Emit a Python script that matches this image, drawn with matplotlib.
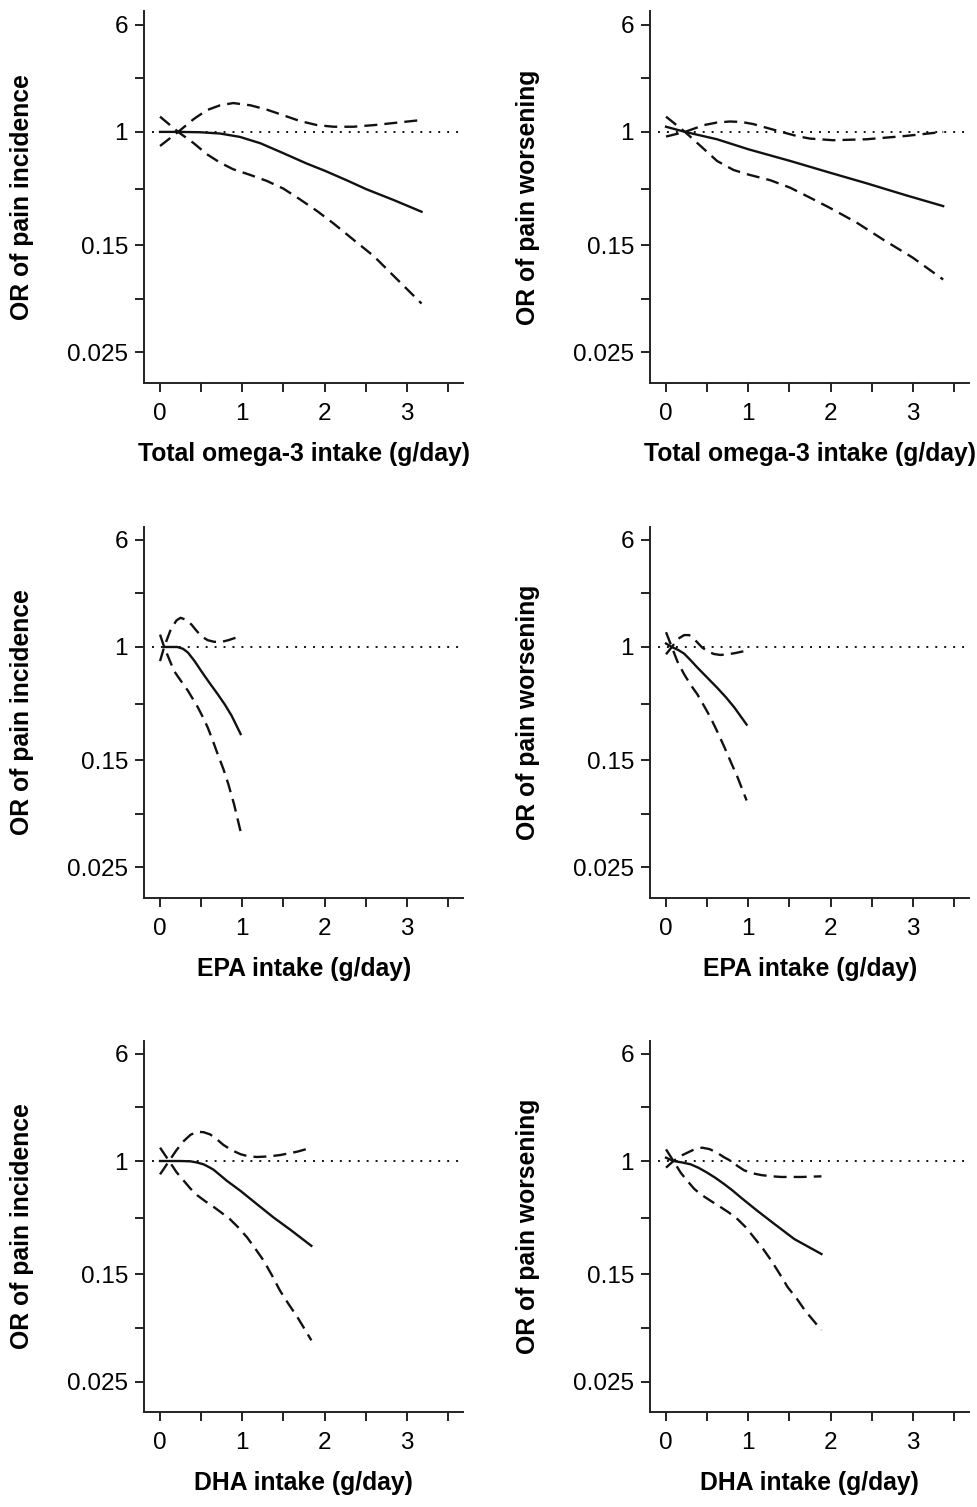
import numpy as np
import matplotlib
matplotlib.use("Agg")
import matplotlib.pyplot as plt
from matplotlib.ticker import NullFormatter

plt.rcParams['font.family'] = ['Liberation Sans', 'DejaVu Sans']

# --- data (x in g/day, y = odds ratio) ---
# Total omega-3 / pain incidence
tot_inc_x = [0, 0.24, 0.49, 0.73, 0.97, 1.22, 1.5, 1.78, 2.01, 2.27, 2.51, 2.84, 3.18]
tot_inc_or = [1.0, 1.0, 0.994, 0.973, 0.92, 0.827, 0.70, 0.59, 0.52, 0.445, 0.383, 0.32, 0.263]
tot_inc_hi_x = [0, 0.22, 0.41, 0.57, 0.73, 0.89, 1.1, 1.3, 1.5, 1.7, 1.91, 2.11, 2.35, 2.6, 2.84, 3.18]
tot_inc_hi = [0.79, 1.0, 1.24, 1.44, 1.56, 1.62, 1.56, 1.45, 1.32, 1.20, 1.12, 1.09, 1.09, 1.12, 1.16, 1.22]
tot_inc_lo_x = [0, 0.22, 0.41, 0.57, 0.73, 0.89, 1.1, 1.3, 1.5, 1.7, 1.91, 2.11, 2.35, 2.6, 2.84, 3.18]
tot_inc_lo = [1.29, 1.0, 0.827, 0.688, 0.598, 0.535, 0.486, 0.44, 0.387, 0.324, 0.266, 0.216, 0.165, 0.125, 0.09, 0.0566]

# Total omega-3 / pain worsening
tot_wor_x = [0, 0.23, 0.62, 1.0, 1.51, 1.99, 2.44, 2.92, 3.37]
tot_wor_or = [1.09, 1.0, 0.884, 0.748, 0.615, 0.506, 0.423, 0.346, 0.289]
tot_wor_hi_x = [0, 0.23, 0.46, 0.62, 0.78, 0.92, 1.06, 1.25, 1.43, 1.6, 1.75, 2.03, 2.44, 2.92, 3.37]
tot_wor_hi = [0.925, 1.0, 1.12, 1.17, 1.19, 1.18, 1.14, 1.06, 0.99, 0.93, 0.894, 0.87, 0.884, 0.935, 1.0]
tot_wor_lo_x = [0, 0.23, 0.42, 0.62, 0.82, 1.0, 1.27, 1.51, 1.75, 1.99, 2.32, 2.64, 3.0, 3.37]
tot_wor_lo = [1.29, 1.0, 0.79, 0.615, 0.529, 0.49, 0.445, 0.393, 0.333, 0.281, 0.219, 0.165, 0.122, 0.0846]

# EPA / pain incidence
epa_inc_x = [0.05, 0.21, 0.28, 0.34, 0.42, 0.5, 0.60, 0.70, 0.79, 0.87, 0.98]
epa_inc_or = [1.0, 1.0, 0.97, 0.91, 0.79, 0.67, 0.55, 0.455, 0.38, 0.317, 0.233]
epa_inc_hi_x = [0, 0.05, 0.13, 0.2, 0.25, 0.31, 0.38, 0.44, 0.5, 0.58, 0.66, 0.75, 0.83, 0.98]
epa_inc_hi = [0.79, 1.0, 1.34, 1.56, 1.63, 1.58, 1.46, 1.32, 1.2, 1.12, 1.09, 1.09, 1.12, 1.2]
epa_inc_lo_x = [0, 0.05, 0.17, 0.26, 0.34, 0.46, 0.52, 0.58, 0.64, 0.70, 0.77, 0.83, 0.9, 0.98]
epa_inc_lo = [1.23, 1.0, 0.67, 0.56, 0.48, 0.364, 0.31, 0.26, 0.21, 0.167, 0.13, 0.101, 0.072, 0.0455]

# EPA / pain worsening
epa_wor_x = [0, 0.07, 0.15, 0.22, 0.3, 0.38, 0.5, 0.62, 0.73, 0.83, 0.98]
epa_wor_or = [1.06, 1.0, 0.95, 0.895, 0.80, 0.71, 0.60, 0.507, 0.43, 0.364, 0.273]
epa_wor_hi_x = [0, 0.07, 0.15, 0.22, 0.28, 0.32, 0.38, 0.44, 0.51, 0.58, 0.66, 0.75, 0.85, 0.94]
epa_wor_hi = [0.885, 1.0, 1.15, 1.22, 1.22, 1.18, 1.08, 0.99, 0.93, 0.89, 0.875, 0.885, 0.905, 0.93]
epa_wor_lo_x = [0, 0.07, 0.14, 0.22, 0.30, 0.38, 0.46, 0.54, 0.62, 0.71, 0.79, 0.87, 0.98]
epa_wor_lo = [1.28, 1.0, 0.78, 0.634, 0.53, 0.454, 0.375, 0.308, 0.245, 0.187, 0.145, 0.113, 0.0767]

# DHA / pain incidence
dha_inc_x = [0, 0.25, 0.37, 0.45, 0.53, 0.6, 0.65, 0.73, 0.81, 0.98, 1.18, 1.38, 1.59, 1.84]
dha_inc_or = [1.0, 1.0, 0.995, 0.975, 0.946, 0.9, 0.865, 0.79, 0.72, 0.606, 0.485, 0.389, 0.315, 0.242]
dha_inc_hi_x = [0, 0.11, 0.2, 0.29, 0.37, 0.45, 0.53, 0.61, 0.69, 0.77, 0.87, 0.98, 1.08, 1.18, 1.32, 1.46, 1.67, 1.84]
dha_inc_hi = [0.8, 1.0, 1.2, 1.4, 1.55, 1.63, 1.62, 1.56, 1.44, 1.31, 1.2, 1.12, 1.08, 1.07, 1.08, 1.105, 1.17, 1.25]
dha_inc_lo_x = [0, 0.11, 0.2, 0.29, 0.37, 0.45, 0.55, 0.65, 0.75, 0.85, 0.95, 1.06, 1.16, 1.26, 1.36, 1.46, 1.57, 1.67, 1.84]
dha_inc_lo = [1.25, 1.0, 0.83, 0.717, 0.63, 0.565, 0.51, 0.465, 0.42, 0.378, 0.33, 0.278, 0.23, 0.189, 0.148, 0.114, 0.09, 0.0735, 0.0498]

# DHA / pain worsening
dha_wor_x = [0, 0.09, 0.2, 0.3, 0.4, 0.5, 0.6, 0.71, 0.81, 0.91, 1.11, 1.32, 1.56, 1.89]
dha_wor_or = [1.057, 1.0, 0.975, 0.946, 0.89, 0.823, 0.755, 0.678, 0.61, 0.543, 0.435, 0.348, 0.271, 0.211]
dha_wor_hi_x = [0, 0.09, 0.18, 0.26, 0.35, 0.44, 0.53, 0.62, 0.7, 0.79, 0.87, 0.95, 1.05, 1.16, 1.28, 1.4, 1.65, 1.89]
dha_wor_hi = [0.895, 1.0, 1.09, 1.15, 1.22, 1.25, 1.22, 1.15, 1.07, 1.0, 0.92, 0.856, 0.815, 0.79, 0.775, 0.766, 0.766, 0.774]
dha_wor_lo_x = [0, 0.09, 0.18, 0.26, 0.34, 0.42, 0.54, 0.67, 0.77, 0.87, 0.97, 1.07, 1.18, 1.28, 1.38, 1.48, 1.59, 1.69, 1.89]
dha_wor_lo = [1.215, 1.0, 0.82, 0.717, 0.63, 0.574, 0.515, 0.46, 0.42, 0.378, 0.33, 0.278, 0.23, 0.189, 0.152, 0.121, 0.1, 0.082, 0.059]

y_ticks = [6, 1, 0.15, 0.025]
y_tick_labels = ['6', '1', '0.15', '0.025']
y_minor = [np.sqrt(6 * 1), np.sqrt(1 * 0.15), np.sqrt(0.15 * 0.025)]
x_ticks = [0, 1, 2, 3]
x_minor = [0.5, 1.5, 2.5, 3.5]

x_labels = ['Total omega-3 intake (g/day)', 'EPA intake (g/day)', 'DHA intake (g/day)']
y_labels = ['OR of pain incidence', 'OR of pain worsening']

panels = [
    [(tot_inc_x, tot_inc_or, tot_inc_hi_x, tot_inc_hi, tot_inc_lo_x, tot_inc_lo),
     (tot_wor_x, tot_wor_or, tot_wor_hi_x, tot_wor_hi, tot_wor_lo_x, tot_wor_lo)],
    [(epa_inc_x, epa_inc_or, epa_inc_hi_x, epa_inc_hi, epa_inc_lo_x, epa_inc_lo),
     (epa_wor_x, epa_wor_or, epa_wor_hi_x, epa_wor_hi, epa_wor_lo_x, epa_wor_lo)],
    [(dha_inc_x, dha_inc_or, dha_inc_hi_x, dha_inc_hi, dha_inc_lo_x, dha_inc_lo),
     (dha_wor_x, dha_wor_or, dha_wor_hi_x, dha_wor_hi, dha_wor_lo_x, dha_wor_lo)],
]

fig = plt.figure(figsize=(9.77, 15.07), dpi=100)

col_left = [0.1474, 0.6653]
col_width = 0.327
row_bottom = [0.7459, 0.4041, 0.0630]
row_height = 0.2465
line_col = '#111111'

for r in range(3):
    for c in range(2):
        ax = fig.add_axes([col_left[c], row_bottom[r], col_width, row_height])
        xs, ys, hx, hy, lx, ly = panels[r][c]
        ax.axhline(1, xmin=0.025, xmax=1, color=line_col, lw=1.4, linestyle=(0, (1, 3.6)))
        ax.plot(xs, ys, color=line_col, lw=1.7, solid_joinstyle='round')
        ax.plot(hx, hy, color=line_col, lw=1.7, linestyle=(0, (5.5, 3)))
        ax.plot(lx, ly, color=line_col, lw=1.7, linestyle=(0, (5.5, 3)))

        ax.set_yscale('log')
        ax.set_ylim(0.015, 7.5)
        ax.set_xlim(-0.195, 3.69)
        ax.set_yticks(y_ticks)
        ax.set_yticklabels(y_tick_labels)
        ax.set_yticks(y_minor, minor=True)
        ax.yaxis.set_minor_formatter(NullFormatter())
        ax.set_xticks(x_ticks)
        ax.set_xticks(x_minor, minor=True)

        for side in ['top', 'right']:
            ax.spines[side].set_visible(False)
        for side in ['left', 'bottom']:
            ax.spines[side].set_linewidth(1.4)
            ax.spines[side].set_color('#222222')
        ax.tick_params(which='both', direction='out', length=6.5, width=1.4,
                       color='#222222', labelsize=17.5)
        ax.tick_params(axis='x', pad=8)
        ax.tick_params(axis='y', pad=5)

        ax.set_xlabel(x_labels[r], fontsize=17.8, fontweight='bold')
        ax.set_ylabel(y_labels[c], fontsize=17.8, fontweight='bold')
        ax.xaxis.set_label_coords(0.5, -0.158)
        ax.yaxis.set_label_coords(-0.345, 0.5)

fig.savefig('out.png', dpi=100)
